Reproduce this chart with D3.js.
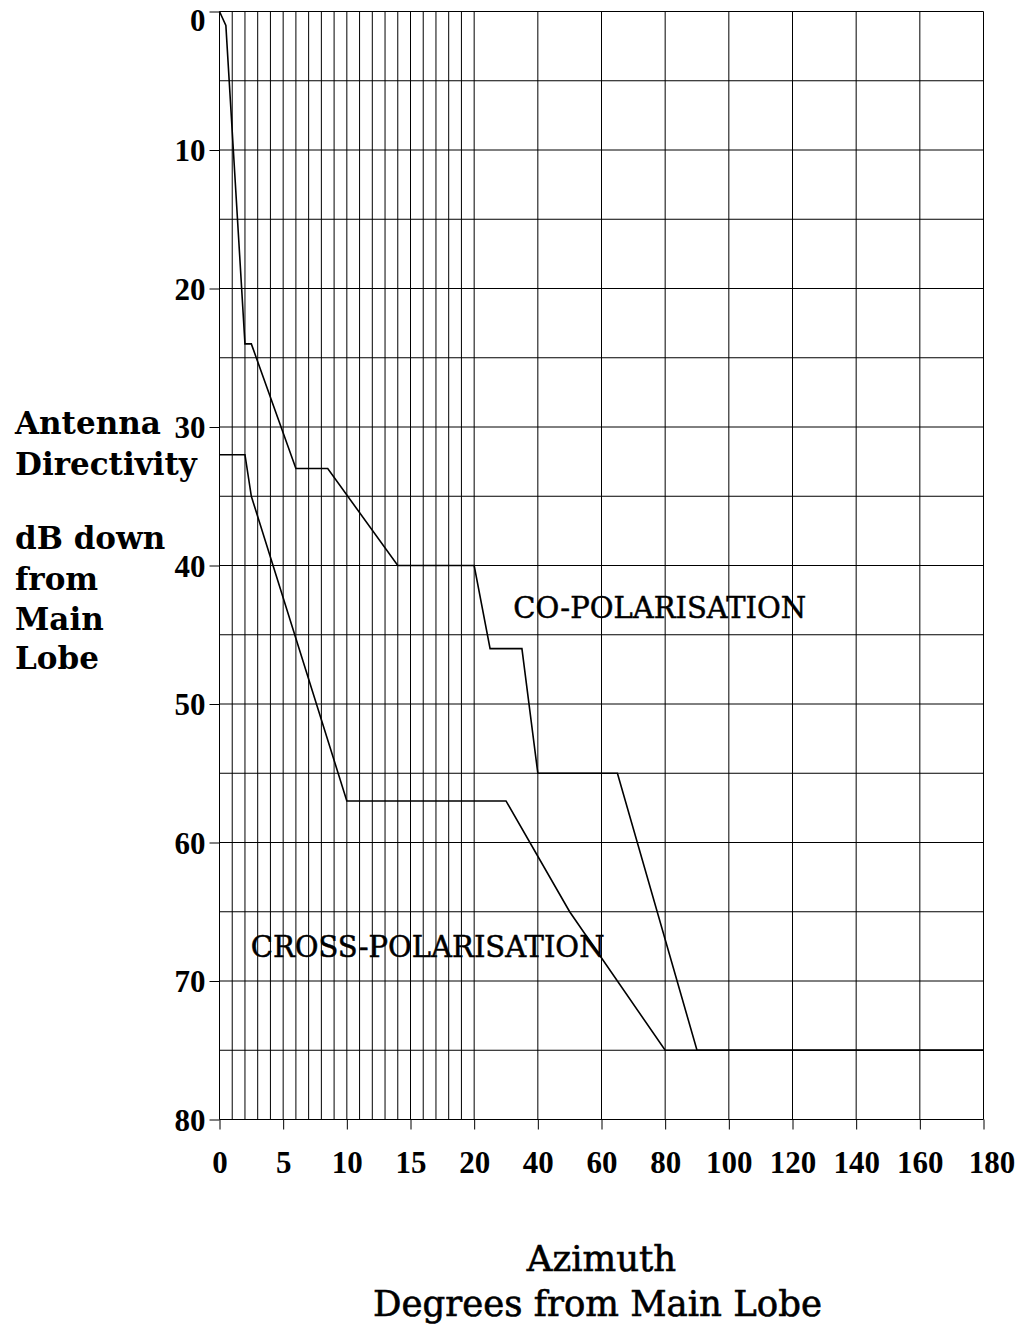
<!DOCTYPE html>
<html>
<head>
<meta charset="utf-8">
<script src="https://cdn.jsdelivr.net/npm/d3@7"></script>
<style>
body { margin: 0; background: #fff; }
</style>
</head>
<body>
<div id="chart"></div>
<script>
// co-polarisation envelope (azimuth in degrees, dB down from main lobe)
const coAzimuth = [0, 0.5, 2, 2.5, 6, 8.5, 14, 20, 25, 35, 40, 65, 90, 180]
const coDb = [0, 1, 24, 24, 33, 33, 40, 40, 46, 46, 55, 55, 75, 75]

// cross-polarisation envelope
const crossAzimuth = [0, 2, 2.5, 10, 30, 50, 80, 180]
const crossDb = [32, 32, 35, 57, 57, 65, 75, 75]

const xTickValues = [0, 5, 10, 15, 20, 40, 60, 80, 100, 120, 140, 160, 180]
const yTickValues = [0, 10, 20, 30, 40, 50, 60, 70, 80]

const svgWidth = 1023
const svgHeight = 1327
const margin = { top: 11.5, right: 39.5, bottom: 207.5, left: 219.5 }
const plotWidth = svgWidth - margin.left - margin.right
const plotHeight = svgHeight - margin.top - margin.bottom

const svg = d3.select("#chart")
  .append("svg")
  .attr("width", svgWidth)
  .attr("height", svgHeight)

// x axis is split: 0-20 degrees take the first third, 20-180 the rest
const x = d3.scaleLinear()
  .domain([0, 20, 180])
  .range([margin.left, margin.left + plotWidth / 3, margin.left + plotWidth])

const y = d3.scaleLinear()
  .domain([0, 80])
  .range([margin.top, margin.top + plotHeight])

// GRID
const verticalLines = d3.range(0, 21).concat(d3.range(40, 181, 20))
const horizontalLines = d3.range(0, 81, 5)

const grid = svg.append("g").attr("stroke", "#000").attr("stroke-width", 1)
grid.selectAll(".v").data(verticalLines).enter()
  .append("line")
  .attr("x1", d => x(d)).attr("x2", d => x(d))
  .attr("y1", y(0)).attr("y2", y(80))
grid.selectAll(".h").data(horizontalLines).enter()
  .append("line")
  .attr("x1", x(0)).attr("x2", x(180))
  .attr("y1", d => y(d)).attr("y2", d => y(d))

// AXES
const tickFont = "'Liberation Serif', serif"

const yAxis = svg.append("g")
  .attr("transform", "translate(" + x(0) + ",0)")
  .call(d3.axisLeft(y).tickValues(yTickValues).tickSize(10).tickPadding(4))
yAxis.select(".domain").remove()
yAxis.selectAll("line").attr("stroke", "#000")
yAxis.selectAll("text")
  .attr("font-family", tickFont)
  .attr("font-weight", "bold")
  .attr("font-size", 31)
  .attr("fill", "#000")
  .attr("dy", d => d === 0 ? "0.6em" : "0.34em")

const xAxis = svg.append("g")
  .attr("transform", "translate(0," + y(80) + ")")
  .call(d3.axisBottom(x).tickValues(xTickValues).tickSize(10).tickPadding(21))
xAxis.select(".domain").remove()
xAxis.selectAll("line").attr("stroke", "#000")
xAxis.selectAll("text")
  .attr("font-family", tickFont)
  .attr("font-weight", "bold")
  .attr("font-size", 31)
  .attr("fill", "#000")
  .attr("dx", d => d === 180 ? 8 : 0) // last label sits a little right of its tick

// CURVES
const line = d3.line()
  .x(d => x(d[0]))
  .y(d => y(d[1]))

const curves = [
  d3.zip(coAzimuth, coDb),
  d3.zip(crossAzimuth, crossDb)
]
svg.append("g").selectAll("path").data(curves).enter()
  .append("path")
  .attr("d", line)
  .attr("fill", "none")
  .attr("stroke", "#000")
  .attr("stroke-width", 1.6)
  .attr("stroke-linejoin", "miter")

// CURVE LABELS
const labelFont = "'DejaVu Serif', serif"
const curveLabels = svg.append("g")
  .attr("font-family", labelFont)
  .attr("font-size", 29)
  .attr("fill", "#000")
  .attr("stroke", "#000")
  .attr("stroke-width", 0.5)
curveLabels.append("text")
  .attr("x", x(32.3)).attr("y", y(43.8))
  .text("CO-POLARISATION")
curveLabels.append("text")
  .attr("x", x(2.45)).attr("y", y(68.3))
  .text("CROSS-POLARISATION")

// Y-AXIS TITLE
const yTitle = [["Antenna", 434], ["Directivity", 475], ["dB down", 549], ["from", 590], ["Main", 630], ["Lobe", 669]]
svg.append("g").selectAll("text").data(yTitle).enter()
  .append("text")
  .attr("x", 15)
  .attr("y", d => d[1])
  .attr("font-family", labelFont)
  .attr("font-weight", "bold")
  .attr("font-size", 31)
  .attr("fill", "#000")
  .text(d => d[0])

// X-AXIS TITLE
const xTitle = svg.append("g")
  .attr("text-anchor", "middle")
  .attr("font-family", labelFont)
  .attr("font-size", 35.5)
  .attr("fill", "#000")
  .attr("stroke", "#000")
  .attr("stroke-width", 0.6)
xTitle.append("text")
  .attr("x", x(0) + plotWidth / 2).attr("y", 1271)
  .text("Azimuth")
xTitle.append("text")
  .attr("x", x(0) + plotWidth / 2 - 4).attr("y", 1316)
  .text("Degrees from Main Lobe")
</script>
</body>
</html>
